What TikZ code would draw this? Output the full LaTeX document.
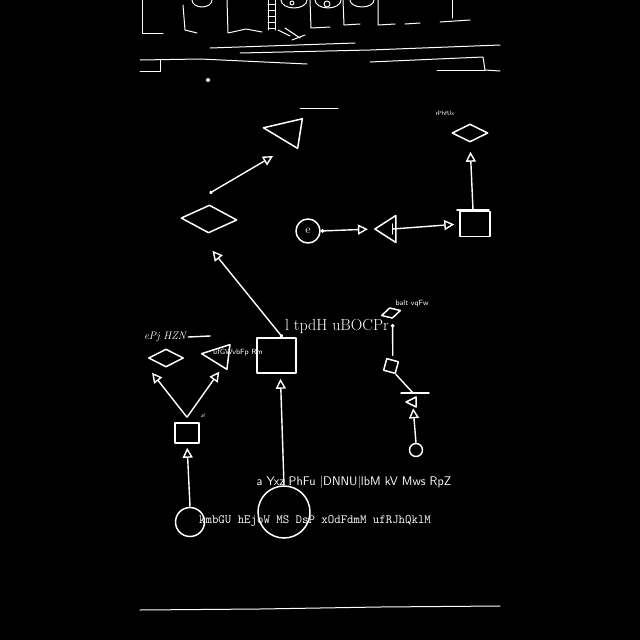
\documentclass[tikz,border=0pt]{standalone}
\usepackage{tikz}
\usepackage{xcolor}
\usetikzlibrary{positioning, arrows.meta, shapes.geometric, calc}
\definecolor{cInk}{HTML}{FFFFFF}
\definecolor{cBack}{HTML}{000000}
\tikzset{
  sketch/.style={
    draw=cInk, line width=1.5pt,
    line join=round, line cap=round,
    inner sep=0pt
  },
  rectbox/.style 2 args={sketch, rectangle, minimum width=#1, minimum height=#2},
  diam/.style 2 args={sketch, diamond, minimum width=#1, minimum height=#2},
  tri/.style 2 args={
    sketch, isosceles triangle, isosceles triangle stretches,
    shape border rotate=180, minimum width=#2, minimum height=#1
  },
  ring/.style={sketch, circle, minimum size=#1},
  flow/.style={
    -{Triangle[open, length=10pt, width=10pt]},
    line width=1.4pt, draw=cInk
  },
  dotflow/.style={
    {Circle[length=3.5pt]}-{Triangle[open, length=10pt, width=10pt]},
    line width=1.4pt, draw=cInk
  },
  link/.style={line width=1.4pt, draw=cInk, line cap=round},
  scene/.style={line width=1pt, draw=cInk, line cap=round, line join=round},
  lbl/.style={text=cInk, inner sep=0pt}
}

\begin{document}
\begin{tikzpicture}[x=1pt, y=-1pt]
  \fill[cBack] (0,0) rectangle (640,640);
  \useasboundingbox (0,0) rectangle (640,640);

  % scene at the top
  \draw[scene] (142,0) -- (142,33) -- (163,33);
  \draw[scene] (183,5) -- (185,30) -- (197,33);
  \draw[scene] (202,0) ellipse (10 and 7);
  \draw[scene] (227,0) -- (228,33) -- (246,29) -- (262,32);
  \draw[scene] (268,0) -- (268,30) (275,0) -- (275,30);
  \foreach \y in {4,10,16,22,28} \draw[scene] (268,\y) -- (275,\y);
  \draw[scene] (294,0) ellipse (13 and 8);
  \draw[scene] (292,3) circle (2);
  \draw[scene] (310,0) -- (311,28) -- (330,27);
  \draw[scene] (328,0) ellipse (13 and 8);
  \draw[scene] (327,4) circle (3);
  \draw[scene] (343,0) -- (344,25) -- (360,24);
  \draw[scene] (362,0) ellipse (12 and 7);
  \draw[scene] (378,0) -- (378,25) -- (395,24);
  \draw[scene] (452,0) -- (452,18);
  \draw[scene] (405,24) -- (420,23) (440,22) -- (470,20);
  \draw[scene] (278,30) -- (290,36) (285,28) -- (300,38) (292,40) -- (305,35);
  \draw[scene] (210,48) -- (355,43);
  \draw[scene] (240,53) -- (370,50) -- (500,45);
  \draw[scene] (140,60) -- (200,59) -- (307,64);
  \draw[scene] (140,71) -- (160,71) -- (160,60);
  \draw[scene] (370,62) -- (483,57) -- (485,70) -- (500,71);
  \draw[scene] (437,70) -- (485,70);
  \fill[cInk] (208,80) circle (2);
  \draw[scene] (300,108) -- (338,108);
  \draw[scene] (140,610) -- (260,609) -- (380,607) -- (500,606);

  % shapes
  \node[tri={37}{30}, rotate=-9] (topTri) at (290,132) {};
  \node[diam={36}{18}] (dTR) at (470,133) {};
  \node[diam={56}{28}, rotate=-2] (dMid) at (209,219) {};
  \node[ring=24, lbl, font=\large] (circE) at (308,231) {e};
  \node[tri={21}{27}] (midTri) at (388.5,229) {};
  \node[rectbox={30}{25}] (boxTR) at (475,224) {};
  \node[rectbox={39}{35}] (bigBox) at (276.5,355.5) {};
  \node[diam={35}{18}] (dSmall) at (166,358) {};
  \node[tri={27}{25}, rotate=-7] (sTri) at (220.5,356) {};
  \node[rectbox={24}{20}] (smallBoxL) at (187,433) {};
  \node[ring=29] (smallCirc) at (190,522) {};
  \node[ring=52] (bigCirc) at (284,512) {};
  \node[diam={20}{11}, rotate=15] (dTiny) at (391,313) {};
  \node[rectbox={12}{12}, rotate=-15] (tinyBoxR) at (391,366) {};
  \node[tri={10}{10}] (tinyTri) at (413,402) {};
  \node[ring=13] (tinyCirc) at (416,450) {};
  \coordinate (barTR) at (473,210);
  \coordinate (barR) at (415,393);
  \draw[link] ([xshift=-16pt]barTR) -- ([xshift=16pt]barTR);
  \draw[link] ([xshift=-14pt]barR) -- ([xshift=14pt]barR);

  % texts
  \node[lbl, font=\fontsize{16}{18}\selectfont] (tTitle) at (337,326) {l tpdH uBOCPr};
  \node[lbl, font=\sffamily\fontsize{12.5}{14}\selectfont] (tMid) at (354,482) {a Yxz PhFu |DNNU|lbM kV Mws RpZ};
  \node[lbl, font=\ttfamily\fontsize{12.5}{14}\selectfont] (tLow) at (315,521) {kmbGU hEjoW MS DsP xOdFdmM ufRJhQklM};
  \node[lbl, font=\itshape\fontsize{11}{13}\selectfont] (tScript) at (165,337) {ePj HZN};
  \node[lbl, font=\sffamily\fontsize{7.5}{8}\selectfont] (tSide) at (238,353) {ufGWvbFp Rm};
  \node[lbl, font=\sffamily\fontsize{7.5}{8}\selectfont] (tRight) at (412,304) {balt vqFw};
  \node[lbl, font=\sffamily\fontsize{6}{7}\selectfont] (tCorner) at (445,113) {rPhfUx};
  \node[lbl, font=\sffamily\fontsize{5}{6}\selectfont] (tTiny) at (203,416) {zf};
  \draw[link] ([xshift=2pt]tScript.east) -- ++(22,-1);

  % connectors
  \draw[dotflow] ([yshift=11pt]dMid.north) -- ([shift={(-17,24)}]topTri.center);
  \draw[dotflow] ([xshift=6pt]bigBox.north) -- ([shift={(4,17)}]dMid.south);
  \draw[dotflow, shorten >=5pt] (circE.east) -- (midTri.apex);
  \draw[flow, shorten >=5pt] ([xshift=-4pt]midTri.east) -- (boxTR.west);
  \draw[link] ([xshift=-4pt, yshift=5pt]midTri.east) -- ([xshift=-4pt, yshift=-5pt]midTri.east);
  \draw[flow, shorten >=9pt] (barTR) -- (dTR.south);
  \draw[flow] ([yshift=5pt]smallBoxL.north) -- ([shift={(-14,5)}]dSmall.south);
  \draw[flow] ([yshift=5pt]smallBoxL.north) -- ([yshift=-6pt]sTri.south);
  \draw[flow, shorten >=4pt] (smallCirc.north) -- (smallBoxL.south);
  \draw[flow] (bigCirc.north) -- ([shift={(4,5)}]bigBox.south);
  \draw[{Circle[length=3.5pt]}-, link, shorten <=5pt, shorten >=4pt] (dTiny.south) -- (tinyBoxR.north);
  \draw[link] (tinyBoxR.south east) -- ([xshift=-2pt]barR);
  \draw[flow, shorten >=2pt] (tinyCirc.north) -- (tinyTri.south);
\end{tikzpicture}
\end{document}
